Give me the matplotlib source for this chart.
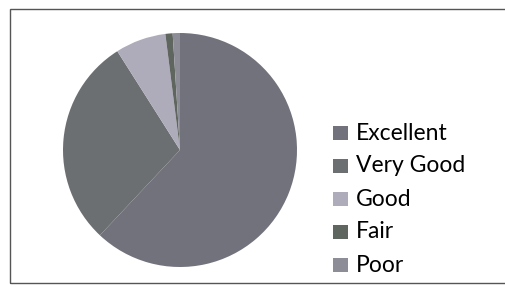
import matplotlib
matplotlib.use("Agg")
import matplotlib.pyplot as plt
from matplotlib.patches import Rectangle

categories = ["Excellent", "Very Good", "Good", "Fair", "Poor"]
shares = [62, 29, 7, 1, 1]
colors = ["#71727b", "#6c6f72", "#aeacbb", "#5f655f", "#8d8d98"]

W, H = 506, 293
fig = plt.figure(figsize=(W / 100, H / 100), dpi=100)
fig.patch.set_facecolor("white")

# outer frame of the chart area (right side runs off the scan)
fig.patches.append(Rectangle((10 / W, 10 / H), 1.05, (283 - 9) / H,
                             transform=fig.transFigure, fill=False,
                             edgecolor="#555555", linewidth=1.0))

cx, cy, r = 180, 150, 117
ax = fig.add_axes([(cx - r) / W, (H - cy - r) / H, 2 * r / W, 2 * r / H])
ax.pie(shares, colors=colors, startangle=90, counterclock=False,
       wedgeprops={"linewidth": 0})
ax.set_xlim(-1, 1)
ax.set_ylim(-1, 1)
ax.axis("off")

# legend drawn as squares + labels
for i, (lab, col) in enumerate(zip(categories, colors)):
    y = 133 + i * 33
    fig.patches.append(Rectangle((333 / W, 1 - (y + 7) / H), 15 / W, 14 / H,
                                 transform=fig.transFigure, facecolor=col,
                                 edgecolor="none"))
    fig.text(356 / W, 1 - y / H, lab, fontsize=16.5, family="Lato",
             va="center", ha="left", color="#000000")

fig.savefig("out.png", dpi=100)
